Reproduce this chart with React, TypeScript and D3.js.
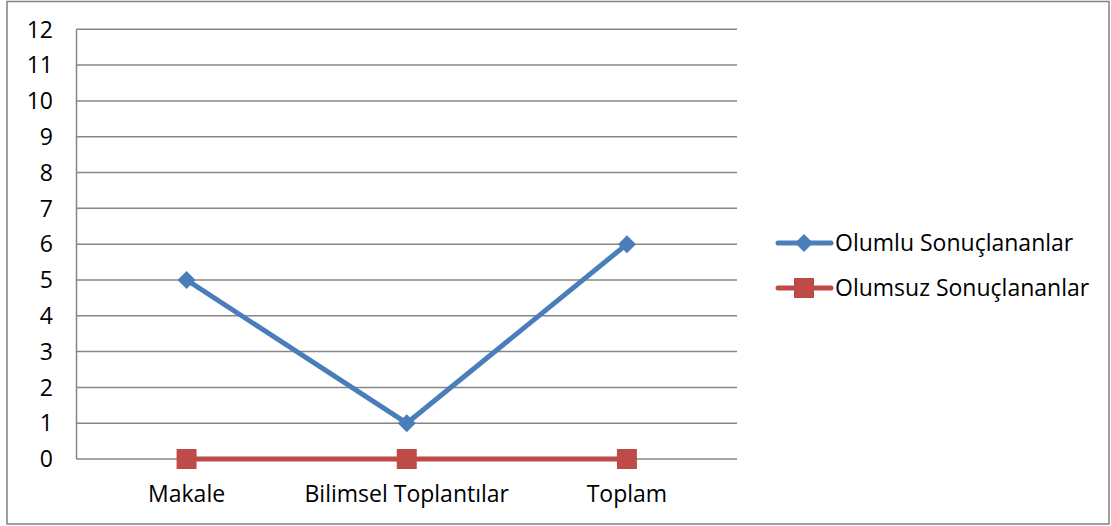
import React from "react";
import * as d3 from "d3";

const categories = ["Makale", "Bilimsel Toplantılar", "Toplam"];
const seriesNames = ["Olumlu Sonuçlananlar", "Olumsuz Sonuçlananlar"];
const olumlu = [5, 1, 6];
const olumsuz = [0, 0, 0];
const yTicks = [0, 1, 2, 3, 4, 5, 6, 7, 8, 9, 10, 11, 12];

const W = 1111;
const H = 526;
const FONT = "'Open Sans', sans-serif";
const FS = 23;

export default function App() {
  const left = 76.5;
  const right = 737;
  const top = 29.3;
  const bottom = 459;
  const x = d3.scaleBand<string>().domain(categories).range([left, right]);
  const y = d3.scaleLinear().domain([0, 12]).range([bottom, top]);
  const cx = (c: string) => (x(c) as number) + x.bandwidth() / 2;
  const line = d3
    .line<number>()
    .x((_, i) => cx(categories[i]))
    .y((d) => y(d));
  const colors = ["#4A7EBB", "#BE4B48"];
  const series = [olumlu, olumsuz];

  const diamond = (px: number, py: number, r: number) =>
    `M${px},${py - r}L${px + r},${py}L${px},${py + r}L${px - r},${py}Z`;

  return (
    <div style={{ position: "absolute", left: 0, top: 0 }}>
      <svg width={W} height={H} style={{ display: "block" }}>
        <rect x={0} y={0} width={W} height={H} fill="#fff" />
        <rect x={7} y={1.5} width={1102} height={522.5} fill="none" stroke="#808080" strokeWidth={1.5} />
        {yTicks.map((t) => (
          <g key={t}>
            <line x1={left} x2={right} y1={y(t)} y2={y(t)} stroke="#868686" strokeWidth={1.5} />
            <text
              x={53}
              y={y(t)}
              dy="0.36em"
              textAnchor="end"
              fontFamily={FONT}
              fontSize={FS}
              fill="#000"
            >
              {t}
            </text>
          </g>
        ))}
        <line x1={left} x2={left} y1={top} y2={bottom} stroke="#868686" strokeWidth={1.5} />
        {categories.map((c) => (
          <text
            key={c}
            x={cx(c)}
            y={502}
            textAnchor="middle"
            fontFamily={FONT}
            fontSize={FS}
            fill="#000"
          >
            {c}
          </text>
        ))}
        {series.map((s, si) => (
          <g key={si}>
            <path d={line(s) || ""} fill="none" stroke={colors[si]} strokeWidth={5} strokeLinejoin="round" />
            {s.map((v, i) =>
              si === 0 ? (
                <path key={i} d={diamond(cx(categories[i]), y(v), 9)} fill={colors[si]} />
              ) : (
                <rect key={i} x={cx(categories[i]) - 10} y={y(v) - 10} width={20} height={20} fill={colors[si]} />
              )
            )}
          </g>
        ))}
        {seriesNames.map((n, i) => {
          const ly = 243 + i * 45;
          return (
            <g key={n}>
              <line x1={778} x2={831} y1={ly} y2={ly} stroke={colors[i]} strokeWidth={5} strokeLinecap="round" />
              {i === 0 ? (
                <path d={diamond(804, ly, 9)} fill={colors[i]} />
              ) : (
                <rect x={794} y={ly - 10} width={20} height={20} fill={colors[i]} />
              )}
              <text x={835} y={ly} dy="0.36em" fontFamily={FONT} fontSize={FS} fill="#000">
                {n}
              </text>
            </g>
          );
        })}
      </svg>
    </div>
  );
}
